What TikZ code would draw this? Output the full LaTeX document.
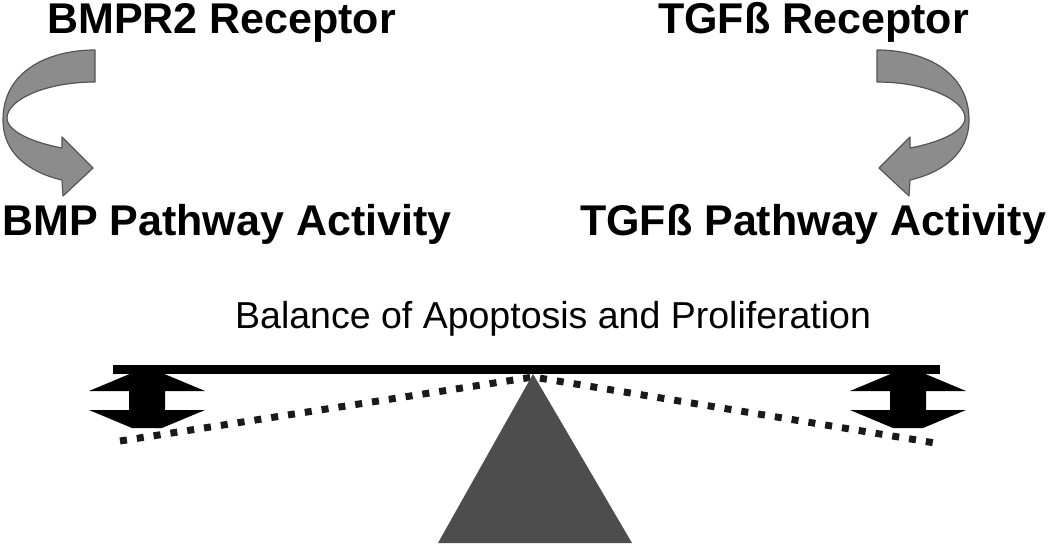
\documentclass[tikz,border=0pt]{standalone}
\usepackage{fontspec}
\setmainfont{Liberation Sans}
\definecolor{arrowgray}{HTML}{8C8C8C}
\definecolor{arrowedge}{HTML}{555555}
\definecolor{fulcrum}{HTML}{4D4D4D}
\definecolor{dotcol}{HTML}{1A1A1A}
\tikzset{
  bigbold/.style={font=\fontsize{43}{50}\selectfont\bfseries, inner sep=0pt, anchor=base west},
  caption/.style={font=\fontsize{37.5}{44}\selectfont, inner sep=0pt, anchor=base west},
  ribbon/.style={fill=arrowgray, draw=arrowedge, line width=1.2pt, line join=round},
  dotline/.style={draw=dotcol, line width=7pt, dash pattern=on 7pt off 10pt},
  pivot/.style={fill=fulcrum, draw=none},
  beam/.style={draw=black, line width=9pt},
  pressure/.style={fill=black, draw=none},
  curvearrow/.pic={
    \path[ribbon] (95,50) .. controls (50,50) and (3,70) .. (3,120)
      .. controls (3,160) and (40,175) .. (62,180)
      -- (63,196) -- (93,168) -- (62,137) -- (62,148)
      .. controls (35,143) and (7,132) .. (7,118)
      .. controls (7,100) and (45,82) .. (95,82) -- cycle;
  },
  doublearrow/.pic={
    \path[pressure] (-15,0) -- (15,0) -- (58,18) -- (18,18) -- (18,37) -- (58,37)
      -- (15,55) -- (-15,55) -- (-58,37) -- (-18,37) -- (-18,18) -- (-58,18) -- cycle;
  }
}
\begin{document}
\begin{tikzpicture}[x=1pt,y=-1pt]
\useasboundingbox (0,0) rectangle (1050,554);
% texts
\node[bigbold] (bmpr) at (47,33) {BMPR2 Receptor};
\node[bigbold] (tgfr) at (658,33) {TGFß Receptor};
\node[bigbold] (bmpa) at (2,235) {BMP Pathway Activity};
\node[bigbold] (tgfa) at (580,235) {TGFß Pathway Activity};
\node[caption] (bal) at (235,328) {Balance of Apoptosis and Proliferation};
% curved arrows
\pic at (0,0) {curvearrow};
\pic[xscale=-1] at (972,0) {curvearrow};
% tilted beam (dotted)
\coordinate (dl) at (120,441);
\coordinate (apex) at (533,377);
\coordinate (dr) at (935,443);
\draw[dotline] (dl) -- (apex) -- (dr);
% fulcrum
\coordinate (bl) at (438,543);
\coordinate (br) at (632,543);
\coordinate (top) at (533,374);
\path[pivot] (bl) -- (top) -- (br) -- cycle;
% level beam
\coordinate (beamL) at (113,369);
\coordinate (beamR) at (940,369);
\draw[beam] (beamL) -- (beamR);
% double arrows
\pic at (147,373) {doublearrow};
\pic at (908,373) {doublearrow};
\end{tikzpicture}
\end{document}
